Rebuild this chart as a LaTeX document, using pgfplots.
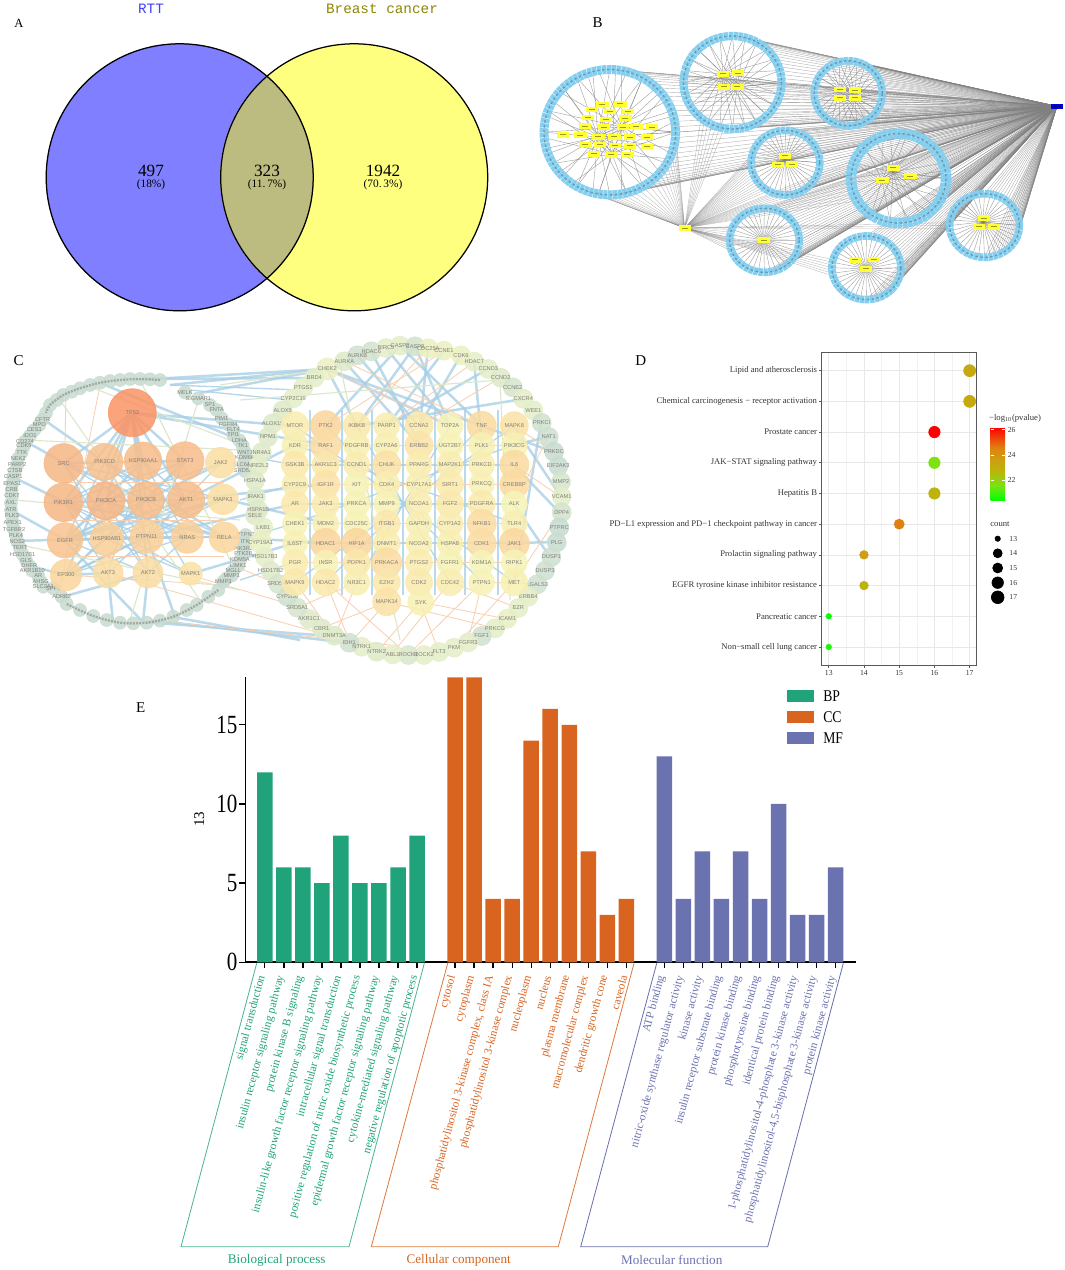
\documentclass[border=0pt]{standalone}
\usepackage{pgfplots}
\usepackage{pgfplotstable}
\usepackage{fontspec}
\pgfplotsset{compat=1.18}
\setmainfont{Liberation Serif}
\newfontfamily\cf{Liberation Sans}
\newfontfamily\vf{Liberation Mono}
\newcommand\fs[1]{\fontsize{#1}{#1}\selectfont}
\pgfplotsset{/pgf/number format/assume math mode=true}

\definecolor{vblue}{HTML}{7F7FFF}
\definecolor{vyel}{HTML}{FFFF7F}
\definecolor{vlens}{HTML}{BDBC80}
\definecolor{ringb}{HTML}{84CFF0}
\definecolor{nodey}{HTML}{FFFF33}
\definecolor{labg}{HTML}{857F78}
\definecolor{edgeb}{HTML}{A9CFE6}
\definecolor{edgeo}{HTML}{F8CFB0}
\definecolor{edgeg}{HTML}{DCE8CC}
\definecolor{bp}{HTML}{20A27A}
\definecolor{cc}{HTML}{D96420}
\definecolor{mf}{HTML}{6B72B0}
\definecolor{txtg}{HTML}{333333}

% unit circle, 5 degree steps; index 18 = south (y runs down), 36 = west, 54 = north
\pgfplotstableread{
c s
1 0
.9962 .0872
.9848 .1736
.9659 .2588
.9397 .3420
.9063 .4226
.8660 .5
.8192 .5736
.7660 .6428
.7071 .7071
.6428 .7660
.5736 .8192
.5 .8660
.4226 .9063
.3420 .9397
.2588 .9659
.1736 .9848
.0872 .9962
0 1
-.0872 .9962
-.1736 .9848
-.2588 .9659
-.3420 .9397
-.4226 .9063
-.5 .8660
-.5736 .8192
-.6428 .7660
-.7071 .7071
-.7660 .6428
-.8192 .5736
-.8660 .5
-.9063 .4226
-.9397 .3420
-.9659 .2588
-.9848 .1736
-.9962 .0872
-1 0
-.9962 -.0872
-.9848 -.1736
-.9659 -.2588
-.9397 -.3420
-.9063 -.4226
-.8660 -.5
-.8192 -.5736
-.7660 -.6428
-.7071 -.7071
-.6428 -.7660
-.5736 -.8192
-.5 -.8660
-.4226 -.9063
-.3420 -.9397
-.2588 -.9659
-.1736 -.9848
-.0872 -.9962
0 -1
.0872 -.9962
.1736 -.9848
.2588 -.9659
.3420 -.9397
.4226 -.9063
.5 -.8660
.5736 -.8192
.6428 -.7660
.7071 -.7071
.7660 -.6428
.8192 -.5736
.8660 -.5
.9063 -.4226
.9397 -.3420
.9659 -.2588
.9848 -.1736
.9962 -.0872
1 0
}\unitring

\pgfplotstableread{
x y
602.3 104.3
620.4 103.7
591.8 109.3
609.5 111.3
627.9 111.3
588.0 117.3
605.7 119.3
625.2 118.0
584.6 126.0
603.7 127.0
622.8 127.0
636.4 126.3
652.1 127.0
562.8 134.7
580.2 135.0
598.2 136.7
614.3 136.7
630.0 137.0
646.7 137.0
585.3 144.3
599.9 144.3
614.6 145.3
630.0 145.7
647.0 146.3
593.5 153.7
611.2 154.7
627.2 154.3
722.8 73.7
738.1 73.0
723.8 86.7
737.4 86.7
839.5 89.3
855.1 90.0
840.1 97.7
854.8 97.7
784.9 155.7
778.0 164.3
791.7 164.0
893.4 167.7
910.4 176.0
882.4 180.0
763.7 240.0
855.1 259.7
873.9 259.3
866.1 268.7
983.8 218.0
979.0 226.7
994.0 226.7
684.6 228.0
}\yellownodes

% panel C, left ring (labelled part)
\pgfplotstableread{
x y r m n
42.7 419.3 6.5 0 CFTR
39.3 425 6.5 0 MPO
34.3 430 6.5 0 CES1
30 435.7 6.5 0 IDO1
25 441.3 6.5 0 CD274
24 446 6.5 0 CDK5
21.7 452.3 6.5 0 TTK
18.3 458.3 6.5 0 NEK2
17.3 464.7 6.5 0 PARP2
15 471 6.5 0 CTSB
13.3 477 6.5 0 CASP1
12.3 483.7 6.5 0 EPAS1
11.7 489.7 6.5 0 CRB
12 496 6.5 0 CDK7
11 503 6.5 0 AXL
11 510 6.5 0 ATR
12 516 6.5 0 PLK3
12.7 522.7 6.5 0 APEX1
14 529.3 6.5 0 TGFBR2
16 535.7 6.5 0 PLK4
17.3 541.7 6.5 0 NOS2
20 548 6.5 0 TERT
22.7 554.3 6.5 0 HSD17B1
26 560.3 6.5 0 GLS
29.3 565.7 6.5 0 DHFR
32.3 570.7 6.5 0 AKR1B10
38.3 576 6.5 0 AR
40.7 581.7 6.5 0 AHSG
43.3 586.7 6.5 0 SLC2A1
53.3 588.3 6.5 0 SPP1
61.7 596.7 6.5 0 ADRB2
185 392.3 6.5 0 MELK
198.3 398.3 6.5 0 SIGMAR1
210 405 6.5 0 SP1
216.7 410 6.5 0 FNTA
221.7 418.3 6.5 0 PIM1
228.3 424.3 6.5 0 FGFR4
233.3 429.3 6.5 0 FLT4
233.3 435 6.5 0 TPI1
239.3 440.3 6.5 0 LDHA
242.7 445.7 6.5 0 TK1
245 452.3 6.5 0 WNT1
245 458 6.5 0 KDM6B
243.3 464.3 6.5 0 SLC6A4
245 471 6.5 0 SRD5A3
245.7 535 6.5 0 PTPN2
245 541.7 6.5 0 ITK
243.3 548.3 6.5 0 PIK3R2
243.3 554 6.5 0 PTK2B
240 560 6.5 0 KDM5A
238.3 565.7 6.5 0 LIMK1
233.3 570.7 6.5 0 MGLL
231.7 575.7 6.5 0 MMP1
223.3 581.7 6.5 0 MMP3
}\leftring

% panel C, right ring and the column beside the left cluster
\pgfplotstableread{
x y r m n
327.3 369 11 1.4 CHEK2
344.3 361.3 9.5 .8 AURKA
357.3 355.3 9.5 .3 AURKB
371.3 351.3 9.5 .4 HDAC6
386 348 9.5 1 BIRC5
400 345.7 9.5 1 CASP3
415 346.3 9.5 .4 CASP8
428.3 348.3 9.5 1.4 CDC25A
444 350.7 9.5 1.4 CCNE1
461 355.3 9.5 1.4 CDK6
474.3 361.7 9.5 1 HDAC7
488.3 369 9.5 1 CCND3
500.7 377.7 9.5 .8 CCND2
512.7 387.3 9.5 .5 CCNE2
523.3 398.7 9.5 1 CXCR4
533.3 410.3 9.5 1 WEE1
541.7 423 9.5 .3 PRKCI
548.7 437 9.5 .2 NAT1
554 451.7 9.5 0 PRKDC
558.3 466 9.5 0 EIF2AK3
561 481.7 9.5 .5 MMP2
561.7 496.7 9.5 1 VCAM1
561.7 512.3 9.5 .4 DPP4
559.3 527.3 9.5 0 PTPRC
556.7 542.3 9.5 0 PLG
551.3 557 9.5 .2 DUSP1
545 570.7 9.5 .2 DUSP3
537.3 584.3 9.5 .3 LGALS3
528.3 596.7 9.5 1 ERBB4
518.3 608 9.5 1 EZR
507.3 618.7 9.5 1.2 ICAM1
495 628.3 9.5 1 PRKCG
481.7 636 9.5 .3 FGF1
468.3 642.3 9.5 1 FGFR3
454 647.7 9.5 1 PKM
439 652 9.5 1 FLT3
424 655 9.5 1 ROCK2
408.3 655 9.5 .6 ROCK1
392.7 654.3 9.5 1 ABL1
376.7 651.7 9.5 .8 NTRK2
361.7 646.7 9.5 1 NTRK1
349.3 642.7 9.5 .3 IDH1
334.3 635.7 9.5 .8 DNMT3A
321.7 628.3 9.5 .8 CBR1
309 619 9.5 .8 AKR1C1
297.3 607.7 9.5 .5 SRD5A1
314.3 377.7 9.5 1 BRD4
303.3 387.3 9.5 1 PTGS1
293.3 398.3 9.5 1 CYP2C19
282.7 410.3 9.5 .8 ALOX5
272.7 423.3 9.5 .8 ALOX15
268 437 9.5 .8 NPM1
261.7 452.3 9.5 .8 NR4A1
258.3 466 9.5 1 NFE2L2
255 480.7 9.5 .8 HSPA1A
255.7 496.7 9.5 .8 IRAK1
258.3 510 9.5 .8 HSPA1B
255 515.3 9.5 .8 SELE
263.3 527.3 9.5 1 LKB1
260.7 542.3 11 1.3 CYP19A1
265 557 9.5 1 HSD17B3
270.7 571 9.5 .8 HSD17B2
278.3 584 9.5 .5 SRD5A2
287.3 596.7 9.5 .3 CYP2D6
}\rightring

% panel C, grid of genes
\pgfplotstableread{
x y r m n
295 425.7 14 2.6 MTOR
325.7 425.7 15 4 PTK2
356.7 425.7 13.5 3 IKBKB
386.7 425.7 13 2.6 PARP1
419 425.7 14 3 CCNA2
450 425.7 13 2.2 TOP2A
481.7 425.7 14.5 3.7 TNF
514.3 425.7 14 3.3 MAPK8
295 445.3 13 2.4 KDR
325.7 445.3 15 3.6 RAF1
356.7 445.3 13 2.4 PDGFRB
386.7 445.3 13 2.4 CYP2A6
419 445.3 14 3.2 ERBB2
450 445.3 13 2.2 UGT2B7
481.7 445.3 13 2.3 PLK1
514.3 445.3 13 2.3 PIK3CG
295 464.7 13.5 3 GSK3B
325.7 464.7 13.5 3 AKR1C3
356.7 464.7 13 2.7 CCND1
386.7 464.7 14 3.4 CHUK
419 464.7 13 2.6 PPARG
450 464.7 13 2.6 MAP2K1
481.7 464.7 13 2.5 PRKCD
514.3 464.7 14.5 3.7 IL6
295 484.3 13 2.6 CYP2C9
325.7 484.3 14 3.3 IGF1R
356.7 484.3 12.5 2.1 KIT
386.7 484.3 13 2.5 CDK4
419 484.3 13 2.4 CYP17A1
450 484.3 13.5 2.8 SIRT1
481.7 484.3 12.5 2.3 PRKCQ
514.3 484.3 14.5 3.7 CREBBP
295 504 13.5 3 AR
325.7 504 13.5 2.8 JAK3
356.7 504 13 2.2 PRKCA
386.7 504 13 2.2 MMP9
419 504 13 2.6 NCOA1
450 504 13.5 3 FGF2
481.7 504 13.5 2.8 PDGFRA
514.3 504 13 2 ALK
295 523.7 12.5 2.2 CHEK1
325.7 523.7 13 2.4 MDM2
356.7 523.7 13 2.2 CDC25C
386.7 523.7 13.5 3 ITGB1
419 523.7 13 2.4 GAPDH
450 523.7 13 2.6 CYP1A2
481.7 523.7 14.5 3.6 NFKB1
514.3 523.7 13 2.4 TLR4
295 543.3 12.5 2.3 IL6ST
325.7 543.3 15 4 HDAC1
356.7 543.3 15 4 HIF1A
386.7 543.3 13.5 2.6 DNMT1
419 543.3 13 2.4 NCOA2
450 543.3 13 2.4 HSPA8
481.7 543.3 14.5 3.6 CDK1
514.3 543.3 15 3.9 JAK1
295 562.7 13 2.6 PGR
325.7 562.7 12.5 2.2 INSR
356.7 562.7 13.5 3 PDPK1
386.7 562.7 15 3.6 PRKACA
419 562.7 13.5 2.7 PTGS2
450 562.7 13 2.2 FGFR1
481.7 562.7 12.5 2 KDM1A
514.3 562.7 13 2 RIPK1
295 582.3 13.5 3 MAPK9
325.7 582.3 13.5 3 HDAC2
356.7 582.3 13 2.4 NR3C1
386.7 582.3 13.5 3 EZH2
419 582.3 13.5 2.8 CDK2
450 582.3 13.5 2.6 CDC42
481.7 582.3 13 2.1 PTPN1
514.3 582.3 13.5 2.3 MET
386.7 601.7 14 3.3 MAPK14
420.7 602.3 13 2.3 SYK
}\genegrid

% panel C, left cluster
\pgfplotstableread{
x y r m n
132.3 412.7 24 6 TP53
63.7 463.3 19.7 5 SRC
104.7 462 18.3 4.7 PIK3CD
143 460.7 18.7 4.8 HSP90AA1
185 460.7 19 4.8 STAT3
220.7 462.7 15.3 3.5 JAK2
63.3 502.3 19.3 5 PIK3R1
106 501 19 5 PIK3CA
146 500 18.3 4.8 PIK3CB
186.3 500 18.3 4.8 AKT1
223 499.3 15.3 3.5 MAPK3
65 540.3 17.7 4.6 EGFR
107 539 16.7 4.2 HSP90AB1
146.7 536.7 16.7 4.2 PTPN11
187.3 537.3 16 4.2 NRAS
224.3 537.3 15.3 4 RELA
66 575 15.7 4 EP300
108 573 15 3.6 AKT3
148 573 15 3.6 AKT2
190.7 573.7 11.7 3.3 MAPK1
}\cluster

\newcommand\fan[7]{\addplot[#7,quiver={u=#5-(#1+#3*\thisrow{c}),v=#6-(#2+#4*\thisrow{s})}]
  table[x expr=#1+#3*\thisrow{c},y expr=#2+#4*\thisrow{s}] {\unitring};}
\newcommand\ring[5]{%
  \addplot[smooth,draw=ringb,line width=#5,dash pattern=on 2.6pt off .35pt]
    table[x expr=#1+#3*\thisrow{c},y expr=#2+#4*\thisrow{s}] {\unitring};
  \addplot[smooth,draw=black!50!ringb,opacity=.5,line width=.8pt,dash pattern=on 1.5pt off 1.45pt]
    table[x expr=#1+#3*\thisrow{c},y expr=#2+#4*\thisrow{s}] {\unitring};}
\newcommand\discs[1]{%
  \addplot[netnode] table {#1};
  \addplot[netlab] table[meta=n] {#1};}

\pgfplotsset{
  hubedge/.style={gray,line width=.25pt,opacity=.6},
  yeledge/.style={gray,line width=.22pt,opacity=.55},
  inedge/.style={gray,line width=.25pt,opacity=.75},
  edge/.style={quiver={u=\thisrow{a}-\thisrow{x},v=\thisrow{b}-\thisrow{y}}},
  sizedmark/.style={scatter,only marks,mark=*,
    visualization depends on={0.6*\thisrow{r}\as\rr},
    scatter/@pre marker code/.code={%
      \pgfplotscolormapdefinemappedcolor{\pgfplotspointmetatransformed}%
      \scope[mark size=\rr,draw=mapped color,fill=mapped color,opacity=#1]},
    scatter/@post marker code/.code={\endscope}},
  netnode/.style={sizedmark=.88,point meta=\thisrow{m}},
  netlab/.style={only marks,mark=none,point meta=explicit symbolic,nodes near coords,
    every node near coord/.append style={anchor=center,inner sep=0pt,font=\cf\fs{3.4},text=labg}},
}

\begin{document}
\begin{tikzpicture}
\path[use as bounding box] (0,0) rectangle (639pt,762pt);

% ---- pixel canvas: panels A, B, C and the loose parts of D and E
\begin{axis}[at={(0pt,0pt)},anchor=south west,scale only axis,width=639pt,height=762pt,
  xmin=0,xmax=1065,ymin=0,ymax=1270,y dir=reverse,hide axis,clip=false,clip marker paths=true,
  point meta min=0,point meta max=6,
  colormap={cnet}{rgb255(0cm)=(200,220,210);rgb255(1cm)=(228,238,200);rgb255(2cm)=(246,244,184);
    rgb255(3cm)=(251,232,172);rgb255(4cm)=(250,214,158);rgb255(5cm)=(246,184,136);rgb255(6cm)=(250,150,104)}]

% A: venn
\addplot[only marks,mark=*,mark size=80.1pt,mark options={draw=vblue,fill=vblue}] coordinates {(179.7,177.3)};
\addplot[only marks,mark=*,mark size=80.1pt,mark options={draw=vyel,fill=vyel}] coordinates {(354.2,177.3)};
\addplot[fill=vlens,draw=none] coordinates {
 (267,75.3)(274.6,82.4)(282.5,91)(289.6,100.3)(295.9,110.2)(301.3,120.6)(305.8,131.4)(309.3,142.6)(311.9,154)(313.4,165.6)(313.9,177.3)
 (313.4,189)(311.9,200.6)(309.3,212)(305.8,223.2)(301.3,234)(295.9,244.4)(289.6,254.3)(282.5,263.6)(274.6,272.2)(267,279.3)
 (259.4,272.2)(251.5,263.6)(244.4,254.3)(238.1,244.4)(232.7,234)(228.2,223.2)(224.7,212)(222.1,200.6)(220.6,189)(220.1,177.3)
 (220.6,165.6)(222.1,154)(224.7,142.6)(228.2,131.4)(232.7,120.6)(238.1,110.2)(244.4,100.3)(251.5,91)(259.4,82.4)} -- cycle;
\addplot[only marks,mark=o,mark size=80.1pt,mark options={draw=black,line width=.75pt}] coordinates {(179.7,177.3)(354.2,177.3)};
\node[font=\vf\fs{8.6},text=blue!75!white] at (axis cs:151,8.5) {RTT};
\node[font=\vf\fs{8.6},text=olive] at (axis cs:382,9) {Breast cancer};
\node[font=\fs{10.3}] at (axis cs:151,171) {497};
\node[font=\fs{10.3}] at (axis cs:267,171) {323};
\node[font=\fs{10.3}] at (axis cs:383,171) {1942};
\node[font=\fs{6.8}] at (axis cs:151,184.5) {(18\%)};
\node[font=\fs{6.8}] at (axis cs:267,184.5) {(11.\,7\%)};
\node[font=\fs{6.8}] at (axis cs:383,184.5) {(70.\,3\%)};

% B: edges to the blue hub, from the side of each ring that faces it
\fan{609.8}{132.2}{65.8}{62.7}{1057}{106.3}{hubedge,skip coords between index={19}{54}}
\fan{732.5}{82.5}{49}{46.5}{1057}{106.3}{hubedge,skip coords between index={19}{54}}
\fan{848.2}{93.3}{34}{32.5}{1057}{106.3}{hubedge,skip coords between index={19}{54}}
\fan{785.4}{162.7}{34.3}{32.3}{1057}{106.3}{hubedge,skip coords between index={19}{54}}
\fan{898.5}{178.3}{47.5}{44.7}{1057}{106.3}{hubedge,skip coords between index={19}{54}}
\fan{764.4}{240.3}{34.8}{32}{1057}{106.3}{hubedge,skip coords between index={19}{54}}
\fan{866.4}{267.8}{34.5}{31.8}{1057}{106.3}{hubedge,skip coords between index={19}{54}}
\fan{984.5}{225.5}{34.9}{31.8}{1057}{106.3}{hubedge,skip coords between index={19}{54}}
% edges to the yellow hub
\fan{609.8}{132.2}{65.8}{62.7}{684.6}{228}{yeledge,skip coords between index={24}{73}}
\fan{732.5}{82.5}{49}{46.5}{684.6}{228}{yeledge,skip coords between index={0}{20},skip coords between index={27}{73}}
\fan{785.4}{162.7}{34.3}{32.3}{684.6}{228}{yeledge,skip coords between index={0}{24},skip coords between index={40}{73}}
\fan{898.5}{178.3}{47.5}{44.7}{684.6}{228}{yeledge,skip coords between index={0}{30},skip coords between index={42}{73}}
\fan{764.4}{240.3}{34.8}{32}{684.6}{228}{yeledge,skip coords between index={0}{32},skip coords between index={42}{73}}
\fan{866.4}{267.8}{34.5}{31.8}{684.6}{228}{yeledge,skip coords between index={0}{33},skip coords between index={40}{73}}
\fan{984.5}{225.5}{34.9}{31.8}{684.6}{228}{yeledge,skip coords between index={0}{35},skip coords between index={38}{73}}
% edges inside the rings
\fan{609.8}{132.2}{65.8}{62.7}{598}{137}{inedge,each nth point=3}
\fan{609.8}{132.2}{65.8}{62.7}{622}{127}{inedge,each nth point=4}
\fan{609.8}{132.2}{65.8}{62.7}{612}{154}{inedge,each nth point=5}
\fan{732.5}{82.5}{49}{46.5}{723}{74}{inedge,each nth point=3}
\fan{732.5}{82.5}{49}{46.5}{737}{87}{inedge,each nth point=3}
\fan{848.2}{93.3}{34}{32.5}{840}{90}{inedge,each nth point=3}
\fan{848.2}{93.3}{34}{32.5}{855}{98}{inedge,each nth point=3}
\fan{785.4}{162.7}{34.3}{32.3}{785}{160}{inedge,each nth point=2}
\fan{898.5}{178.3}{47.5}{44.7}{893}{172}{inedge,each nth point=4}
\fan{898.5}{178.3}{47.5}{44.7}{882}{180}{inedge,each nth point=5}
\fan{764.4}{240.3}{34.8}{32}{763.7}{240}{inedge,each nth point=2}
\fan{866.4}{267.8}{34.5}{31.8}{866}{268.7}{inedge,each nth point=2}
\fan{984.5}{225.5}{34.9}{31.8}{983}{222}{inedge,each nth point=2}
% rings
\ring{609.8}{132.2}{65.8}{62.7}{5.4pt}
\ring{732.5}{82.5}{49}{46.5}{5pt}
\ring{848.2}{93.3}{34}{32.5}{4.6pt}
\ring{785.4}{162.7}{34.3}{32.3}{4.6pt}
\ring{898.5}{178.3}{47.5}{44.7}{6.4pt}
\ring{764.4}{240.3}{34.8}{32}{4.6pt}
\ring{866.4}{267.8}{34.5}{31.8}{4.6pt}
\ring{984.5}{225.5}{34.9}{31.8}{4.6pt}
% yellow nodes and the hubs
\addplot[only marks,mark=square*,mark size=3.4pt,mark options={yscale=.42,draw=nodey,fill=nodey}] table {\yellownodes};
\addplot[only marks,mark=-,mark size=1.8pt,mark options={line width=.5pt,draw=black,opacity=.4}] table {\yellownodes};
\addplot[only marks,mark=square*,mark size=3.2pt,mark options={yscale=.42,draw=blue!85!black,fill=blue!85!black}] coordinates {(1057,106.3)};
\addplot[only marks,mark=-,mark size=2.2pt,mark options={line width=.5pt,draw=black,opacity=.4}] coordinates {(1057,106.3)};

% C: edges
\addplot[edge,edgeb,line width=1.5pt,opacity=.8] table {
x y a b
132 413 64 463
132 413 105 462
132 413 143 461
132 413 185 461
132 413 106 501
132 413 146 500
132 413 186 500
132 413 64 502
132 413 66 575
132 413 148 573
64 463 185 461
64 463 146 500
64 502 186 500
64 502 224 537
65 540 187 537
65 540 224 499
66 575 108 573
66 575 146 537
106 501 187 537
146 500 66 575
186 500 65 540
105 462 224 537
143 461 65 540
185 461 107 539
221 463 65 540
146 537 295 504
186 500 295 445
186 500 325 484
224 499 326 523
224 537 326 543
190 574 295 543
132 413 295 426
132 413 327 445
170 385 327 369
200 393 327 369
135 380 327 369
145 379 314 378
100 383 240 440
25 441 64 463
13 477 64 502
11 510 65 540
18 541 146 537
30 566 66 575
62 597 148 573
43 419 104 462
143 622 148 573
113 622 108 573
143 622 64 540
175 617 147 537
143 622 330 636
173 617 300 640
150 620 350 643
310 410 310 595
342 410 342 595
372 410 372 595
403 410 403 595
435 410 435 595
465 410 465 595
498 410 498 595
415 346 450 426
400 346 482 426
428 348 420 426
444 351 387 426
386 348 450 426
371 351 420 445
357 355 419 426
344 361 419 445
327 369 482 426
327 369 450 426
327 369 357 426
461 355 419 426
474 362 482 445
488 369 387 426
415 346 357 426
400 346 326 426
523 399 356 426
514 465 559 512
514 543 556 542
514 504 550 557
514 445 548 437
541 423 514 582
561 497 514 426
554 452 482 426
};
% C: thinner blue edges, the dense web inside both clusters
\addplot[edge,edgeb,line width=.8pt,opacity=.85] table {
x y a b
64 463 107 539
64 463 187 537
64 463 224 499
64 463 148 573
105 462 65 540
105 462 146 500
105 462 186 500
105 462 147 537
143 461 64 502
143 461 186 500
143 461 187 537
143 461 108 573
185 461 64 502
185 461 106 501
185 461 147 537
185 461 66 575
221 463 106 501
221 463 147 537
64 502 107 539
64 502 146 537
64 502 108 573
64 502 190 574
106 501 65 540
106 501 146 537
106 501 224 537
106 501 148 573
146 500 65 540
146 500 224 537
146 500 190 574
186 500 107 539
186 500 108 573
224 499 107 539
224 499 66 575
65 540 146 537
65 540 148 573
107 539 187 537
107 539 224 537
107 539 190 574
146 537 224 537
146 537 66 575
187 537 66 575
187 537 148 573
295 426 514 582
514 426 295 582
326 426 482 582
482 426 326 582
357 426 450 582
450 426 357 582
295 504 514 504
295 465 514 465
295 543 514 543
295 445 514 523
295 523 514 445
240 455 295 465
240 500 295 484
240 540 295 523
240 580 295 562
170 385 300 390
190 390 290 400
};
\addplot[edge,edgeo,line width=.5pt] table {
x y a b
326 582 350 643
357 582 335 636
387 602 322 628
387 602 350 643
420 602 377 652
420 602 439 652
450 582 392 654
482 582 468 642
514 582 454 648
482 582 408 655
387 602 495 628
420 602 507 619
450 582 518 608
357 582 297 608
295 582 334 636
326 582 408 655
514 426 554 452
514 465 561 497
514 504 548 437
514 543 528 597
482 582 537 584
514 582 561 512
357 426 428 348
326 426 444 351
387 426 474 362
419 426 500 378
450 426 327 369
482 426 344 361
150 620 390 645
108 573 330 636
186 574 300 607
232 565 280 585
66 575 220 585
66 390 65 445
100 385 60 590
295 445 514 445
295 484 514 484
295 523 514 523
295 562 514 562
64 482 224 482
64 520 224 520
64 556 224 556
};
\addplot[edge,edgeg,line width=.7pt] table {
x y a b
240 400 500 380
220 385 327 369
140 380 230 560
60 400 200 600
340 365 400 640
500 380 510 600
25 440 240 450
15 500 240 520
20 545 240 590
90 387 230 440
200 395 130 620
};

% C: left ring, parts whose labels cannot be read
\addplot[netnode] table {
x y r m
160 380 6.5 0
150 379.3 6.5 0
140 379 6.5 0
130 379 6.5 0
120 380 6.5 0
110 381 6.5 0
100 382.7 6.5 0
90 385 6.5 0
80 388.3 6.5 0
71.7 391.7 6.5 0
63.3 395 6.5 0
56.7 400 6.5 0
50 405 6.5 0
46 413 6.5 0
66.7 604 6.5 0
80 610 6.5 0
93.3 616 6.5 0
106.7 620 6.5 0
120 622.7 6.5 0
133.3 623.3 6.5 0
146.7 622.7 6.5 0
160 620.7 6.5 0
173.3 616.7 6.5 0
186.7 610 6.5 0
196.7 605 6.5 0
208.3 596.7 6.5 0
218.3 590 6.5 0
226.7 578.3 6.5 0
};
\addplot[smooth,draw=labg,opacity=.55,line width=1.4pt,dash pattern=on 1.2pt off .7pt] coordinates {
(160,380)(140,379)(120,380)(100,382.7)(80,388.3)(63.3,395)(50,405)(46,413)};
\addplot[smooth,draw=labg,opacity=.55,line width=1.4pt,dash pattern=on 1.2pt off .7pt] coordinates {
(66.7,604)(93.3,616)(120,622.7)(146.7,622.7)(173.3,616.7)(196.7,605)(218.3,590)};
\discs{\leftring}
\discs{\rightring}
\discs{\genegrid}
\discs{\cluster}

% D: size legend
\addplot[only marks,mark=*,black,mark size=1.6pt] coordinates {(997.7,538.7)};
\addplot[only marks,mark=*,black,mark size=2.7pt] coordinates {(997.7,553.3)};
\addplot[only marks,mark=*,black,mark size=3pt] coordinates {(997.7,568)};
\addplot[only marks,mark=*,black,mark size=3.45pt] coordinates {(997.7,582.7)};
\addplot[only marks,mark=*,black,mark size=3.8pt] coordinates {(997.7,597.3)};
\node[font=\fs{5.2},text=txtg] at (axis cs:1015,418) {−log\textsubscript{10}(pvalue)};
\node[font=\fs{5.2},text=txtg] at (axis cs:1000,523.7) {count};
\node[font=\fs{4.6},text=txtg] at (axis cs:1013.3,538.7) {13};
\node[font=\fs{4.6},text=txtg] at (axis cs:1013.3,553.3) {14};
\node[font=\fs{4.6},text=txtg] at (axis cs:1013.3,568) {15};
\node[font=\fs{4.6},text=txtg] at (axis cs:1013.3,582.7) {16};
\node[font=\fs{4.6},text=txtg] at (axis cs:1013.3,597.3) {17};

% E: boxes around the labels, legend, group names
\addplot[draw=bp!80!white,line width=.5pt] coordinates {(256.7,963.3)(181,1246.7)(349,1246.7)(424.3,963.3)};
\addplot[draw=cc!85!white,line width=.5pt] coordinates {(447.7,963.3)(371.3,1246.7)(558.3,1246.7)(634,963.3)};
\addplot[draw=mf,line width=.5pt] coordinates {(656.7,963.3)(580.7,1246.7)(767.7,1246.7)(843.3,963.3)};
\addplot[only marks,mark=square*,mark size=3.3pt,mark options={xscale=2.43,draw=bp,fill=bp}] coordinates {(800.2,696.2)};
\addplot[only marks,mark=square*,mark size=3.3pt,mark options={xscale=2.43,draw=cc,fill=cc}] coordinates {(800.2,717.2)};
\addplot[only marks,mark=square*,mark size=3.3pt,mark options={xscale=2.43,draw=mf,fill=mf}] coordinates {(800.2,737.7)};
\node[font=\fs{8.2},yscale=1.2,anchor=west,inner sep=0pt] at (axis cs:823,696) {BP};
\node[font=\fs{8.2},yscale=1.2,anchor=west,inner sep=0pt] at (axis cs:823,717) {CC};
\node[font=\fs{8.2},yscale=1.2,anchor=west,inner sep=0pt] at (axis cs:823,738) {MF};
\node[font=\fs{7.9},text=bp] at (axis cs:276.7,1260) {Biological process};
\node[font=\fs{7.9},text=cc] at (axis cs:458.7,1260) {Cellular component};
\node[font=\fs{7.9},text=mf] at (axis cs:671.7,1260) {Molecular function};
\node[font=\fs{9},rotate=90] at (axis cs:199.3,819.3) {13};

% panel letters
\node[font=\fs{7.5}] at (axis cs:19,23) {A};
\node[font=\fs{9}] at (axis cs:597.6,23) {B};
\node[font=\fs{9}] at (axis cs:18.7,361) {C};
\node[font=\fs{9}] at (axis cs:640.7,361) {D};
\node[font=\fs{9}] at (axis cs:140.7,707.3) {E};
\end{axis}

% ---- D: dot plot
\begin{axis}[at={(493.02pt,362.58pt)},anchor=south west,scale only axis,width=93pt,height=187.8pt,
  xmin=12.8,xmax=17.2,ymin=-0.586,ymax=9.61,y dir=reverse,
  xtick={13,14,15,16,17},minor xtick={13.5,14.5,15.5,16.5},xtick pos=bottom,ytick pos=left,
  ytick={0,1,2,3,4,5,6,7,8,9},
  yticklabels={Lipid and atherosclerosis,Chemical carcinogenesis − receptor activation,Prostate cancer,JAK−STAT signaling pathway,Hepatitis B,PD−L1 expression and PD−1 checkpoint pathway in cancer,Prolactin signaling pathway,EGFR tyrosine kinase inhibitor resistance,Pancreatic cancer,Non−small cell lung cancer},
  xmajorgrids,xminorgrids,ymajorgrids,
  major grid style={gray!18,line width=.4pt},minor grid style={gray!10,line width=.3pt},
  tick align=outside,major tick length=1.4pt,minor tick length=0pt,tick style={gray!70!black,line width=.4pt},
  axis line style={gray!70!black,line width=.7pt},
  xticklabel style={font=\fs{4.6},text=txtg,inner sep=1pt},
  yticklabel style={font=\fs{5.2},text=txtg,inner sep=1.2pt},
  point meta min=20.4,point meta max=26.2,
  colormap={gr}{rgb255(0cm)=(0,255,0);rgb255(1.2cm)=(125,225,20);rgb255(2.3cm)=(188,180,10);
    rgb255(3.2cm)=(204,160,18);rgb255(4.2cm)=(224,128,16);rgb255(5.8cm)=(255,0,0)},
  colorbar,
  colorbar style={at={(1.09,0.7617)},anchor=north west,scale only axis,width=8.6pt,height=43.8pt,
    ytick={22,24,26},yticklabel pos=right,tick align=inside,major tick length=2pt,
    tick style={white,line width=.4pt},axis line style={draw=none},
    yticklabel style={font=\fs{4.6},text=txtg,inner sep=1.5pt}}]
\addplot[sizedmark=1,point meta=\thisrow{p}] table {
x y p r
17 0 23.2 6
17 1 23.2 6
16 2 26.2 5.7
16 3 21.6 5.7
16 4 22.7 5.7
15 5 24.6 5
14 6 23.6 4.3
14 7 22.8 4.3
13 8 20.5 2.7
13 9 20.6 2.7
};
\end{axis}

% ---- E: bars
\begin{axis}[at={(147.24pt,184.62pt)},anchor=south west,scale only axis,width=366.12pt,height=171pt,
  xmin=-1.02,xmax=31.05,ymin=0,ymax=18,ybar,bar width=9.3pt,
  axis x line=bottom,axis y line=left,clip=false,
  x axis line style={line width=1.1pt,-},y axis line style={line width=.6pt,-},
  tick align=outside,major tick length=3.6pt,tick style={black,line width=.8pt},
  ytick={0,5,10,15},yticklabel style={font=\fs{12.6},yscale=1.25,inner sep=1pt},
  xtick={0,1,2,3,4,5,6,7,8,10,11,12,13,14,15,16,17,18,19,21,22,23,24,25,26,27,28,29,30},
  xticklabels={
   \textcolor{bp}{signal transduction},\textcolor{bp}{insulin receptor signaling pathway},\textcolor{bp}{protein kinase B signaling},\textcolor{bp}{insulin-like growth factor receptor signaling pathway},\textcolor{bp}{intracellular signal transduction},\textcolor{bp}{positive regulation of nitric oxide biosynthetic process},\textcolor{bp}{epidermal growth factor receptor signaling pathway},\textcolor{bp}{cytokine-mediated signaling pathway},\textcolor{bp}{negative regulation of apoptotic process},
   \textcolor{cc}{cytosol},\textcolor{cc}{cytoplasm},\textcolor{cc}{phosphatidylinositol 3-kinase complex, class IA},\textcolor{cc}{phosphatidylinositol 3-kinase complex},\textcolor{cc}{nucleoplasm},\textcolor{cc}{nucleus},\textcolor{cc}{plasma membrane},\textcolor{cc}{macromolecular complex},\textcolor{cc}{dendritic growth cone},\textcolor{cc}{caveola},
   \textcolor{mf}{ATP binding},\textcolor{mf}{nitric-oxide synthase regulator activity},\textcolor{mf}{kinase activity},\textcolor{mf}{insulin receptor substrate binding},\textcolor{mf}{protein kinase binding},\textcolor{mf}{phosphotyrosine binding},\textcolor{mf}{identical protein binding},\textcolor{mf}{1-phosphatidylinositol-4-phosphate 3-kinase activity},\textcolor{mf}{phosphatidylinositol-4,5-bisphosphate 3-kinase activity},\textcolor{mf}{protein kinase activity}},
  xticklabel style={xshift=-1.5pt,yshift=-4.3pt,rotate=75,anchor=east,font=\fs{6.9},inner sep=0pt}]
\addplot[fill=bp,draw=none,bar shift=0pt] coordinates {(0,12)(1,6)(2,6)(3,5)(4,8)(5,5)(6,5)(7,6)(8,8)};
\addplot[fill=cc,draw=none,bar shift=0pt] coordinates {(10,18)(11,18)(12,4)(13,4)(14,14)(15,16)(16,15)(17,7)(18,3)(19,4)};
\addplot[fill=mf,draw=none,bar shift=0pt] coordinates {(21,13)(22,4)(23,7)(24,4)(25,7)(26,4)(27,10)(28,3)(29,3)(30,6)};
\end{axis}
\end{tikzpicture}
\end{document}
